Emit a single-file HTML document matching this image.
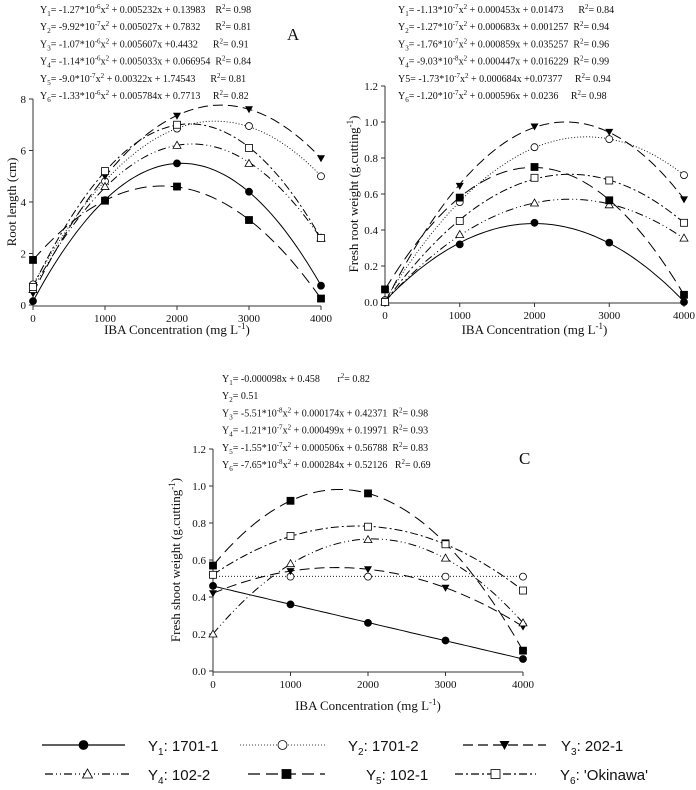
<!DOCTYPE html>
<html><head><meta charset="utf-8"><style>
html,body{margin:0;padding:0;background:#fff;}
svg{display:block;font-family:"Liberation Serif",serif;}
.eq{font-size:10px;fill:#111;}
.tk{font-size:11px;fill:#111;}
.ttl{font-size:13px;fill:#111;}
.lg{font-family:"Liberation Sans",sans-serif;font-size:15px;fill:#111;}
</style></head><body>
<svg id="chart" width="696" height="790" viewBox="0 0 696 790" xmlns="http://www.w3.org/2000/svg"></svg>
<script>
const xCats = [0, 1000, 2000, 3000, 4000];
// Panel A: root length (cm)
const aY1 = [0.15, 4.07, 5.5, 4.4, 0.75];
const aY2 = [0.8, 4.8, 6.85, 6.95, 5.0];
const aY3 = [0.45, 5.0, 7.35, 7.6, 5.7];
const aY4 = [0.6, 4.6, 6.2, 5.5, 2.6];
const aY5 = [1.75, 4.05, 4.6, 3.3, 0.25];
const aY6 = [0.7, 5.2, 7.0, 6.1, 2.6];
const aDeg = [2, 2, 2, 2, 2, 2];
const aTicks = ["0", "2", "4", "6", "8"];
// Panel B: fresh root weight
const bY1 = [0.01, 0.32, 0.44, 0.33, 0.0];
const bY2 = [0.01, 0.555, 0.86, 0.905, 0.705];
const bY3 = [0.0, 0.645, 0.975, 0.945, 0.57];
const bY4 = [0.0, 0.375, 0.55, 0.54, 0.355];
const bY5 = [0.07, 0.58, 0.75, 0.565, 0.04];
const bY6 = [0.0, 0.45, 0.69, 0.675, 0.44];
const bDeg = [2, 2, 2, 2, 2, 2];
const bTicks = ["0.0", "0.2", "0.4", "0.6", "0.8", "1.0", "1.2"];
// Panel C: fresh shoot weight
const cY1 = [0.46, 0.36, 0.26, 0.165, 0.065];
const cY2 = [0.52, 0.51, 0.51, 0.51, 0.51];
const cY3 = [0.42, 0.54, 0.55, 0.45, 0.24];
const cY4 = [0.2, 0.58, 0.71, 0.61, 0.26];
const cY5 = [0.57, 0.92, 0.96, 0.69, 0.11];
const cY6 = [0.52, 0.73, 0.78, 0.685, 0.435];
const cDeg = [1, 0, 2, 2, 2, 2];
const cTicks = ["0.0", "0.2", "0.4", "0.6", "0.8", "1.0", "1.2"];

const NS = "http://www.w3.org/2000/svg";
const svg = document.getElementById('chart');
const dashes = ["", "1,2", "10,5", "8,3,1,3,1,3", "12,6", "8,3,2,3"];
const markers = ["fc", "oc", "ftd", "otu", "fs", "os"];
function mk(tag, attrs, parent) {
  const e = document.createElementNS(NS, tag);
  for (const k in attrs) e.setAttribute(k, attrs[k]);
  (parent || svg).appendChild(e);
  return e;
}
function fit(xs, ys, deg) {
  const n = deg + 1;
  const M = [], V = [];
  for (let i = 0; i < n; i++) { M.push(new Array(n).fill(0)); V.push(0); }
  xs.forEach((xx, k) => {
    const x = xx / 1000;
    for (let i = 0; i < n; i++) {
      V[i] += ys[k] * Math.pow(x, i);
      for (let j = 0; j < n; j++) M[i][j] += Math.pow(x, i + j);
    }
  });
  for (let i = 0; i < n; i++) {
    for (let r = i + 1; r < n; r++) {
      const f = M[r][i] / M[i][i];
      for (let c = i; c < n; c++) M[r][c] -= f * M[i][c];
      V[r] -= f * V[i];
    }
  }
  const co = new Array(n).fill(0);
  for (let i = n - 1; i >= 0; i--) {
    let s = V[i];
    for (let c = i + 1; c < n; c++) s -= M[i][c] * co[c];
    co[i] = s / M[i][i];
  }
  return xx => { const x = xx / 1000; let y = 0; co.forEach((c, i) => y += c * Math.pow(x, i)); return y; };
}
function marker(g, type, x, y, r) {
  r = r || 3.5;
  let e;
  if (type === "fc" || type === "oc") e = mk('circle', {cx:x, cy:y, r:r, fill:type==="fc"?"#000":"#fff", stroke:"#000", "stroke-width":0.8}, g);
  else if (type === "fs" || type === "os") e = mk('rect', {x:x-r, y:y-r, width:2*r, height:2*r, fill:type==="fs"?"#000":"#fff", stroke:"#000", "stroke-width":0.8}, g);
  else if (type === "ftd") e = mk('polygon', {points:`${x-r-0.5},${y-r+0.5} ${x+r+0.5},${y-r+0.5} ${x},${y+r+0.5}`, fill:"#000"}, g);
  else e = mk('polygon', {points:`${x-r-0.5},${y+r-0.5} ${x+r+0.5},${y+r-0.5} ${x},${y-r-0.5}`, fill:"#fff", stroke:"#000", "stroke-width":0.8}, g);
  return e;
}
function panel(name, px0, px1, py0, py1, ymax, ticks, series, degs, eqs, eqX, eqY, ylabel, yLabX, letter, xTitleY) {
  const g = mk('g', {}, svg);
  
  
  const sx = v => px0 + (v / 4000) * (px1 - px0);
  const sy = v => py0 - (v / ymax) * (py0 - py1);
  const ax = mk('path', {d:`M${px0},${py1} V${py0+1} H${px1}`, stroke:"#333", fill:"none", "stroke-width":1}, g);
  
  
  ticks.forEach(t => {
    const v = parseFloat(t);
    mk('line', {x1:px0-4, x2:px0, y1:sy(v), y2:sy(v), stroke:"#333"}, g);
    const tx = mk('text', {x:px0-7, y:sy(v)+4, "text-anchor":"end", class:"tk"}, g);
    tx.textContent = t;
    
    
  });
  xCats.forEach(c => {
    mk('line', {x1:sx(c), x2:sx(c), y1:py0+1, y2:py0+5, stroke:"#333"}, g);
    const tx = mk('text', {x:sx(c), y:py0+17, "text-anchor":"middle", class:"tk"}, g);
    tx.textContent = c;
    
    
  });
  series.forEach((vals, s) => {
    const f = fit(xCats, vals, degs[s]);
    let d = "";
    for (let x = 0; x <= 4000; x += 50) {
      const y = Math.max(0, f(x));
      d += (x ? "L" : "M") + sx(x).toFixed(1) + "," + sy(y).toFixed(1);
    }
    const p = mk('path', {d:d, fill:"none", stroke:"#000", "stroke-width":s===1?0.9:1, "stroke-dasharray":dashes[s]}, g);
    
    
  });
  series.forEach((vals, s) => {
    vals.forEach((v, i) => {
      const m = marker(g, markers[s], sx(xCats[i]), sy(v));
      
      
    });
  });
  eqs.forEach((e, i) => {
    const t = mk('text', {x:eqX, y:eqY + i*17.2, class:"eq"}, g);
    t.innerHTML = e;
    
    
  });
  const yl = mk('text', {x:0, y:0, class:"ttl", "text-anchor":"middle", transform:`translate(${yLabX},${(py0+py1)/2}) rotate(-90)`}, g);
  yl.innerHTML = ylabel;
  
  
  const xl = mk('text', {x:(px0+px1)/2, y:xTitleY, class:"ttl", "text-anchor":"middle"}, g);
  xl.innerHTML = 'IBA Concentration (mg L<tspan dy="-5" font-size="9">-1</tspan><tspan dy="5">)</tspan>';
  
  
  if (letter) {
    const lt = mk('text', {x:letter[0], y:letter[1], "font-size":"17", fill:"#111"}, g);
    lt.textContent = letter[2];
    
    
  }
}
const sub = n => `Y<tspan dy="3" font-size="7">${n}</tspan><tspan dy="-3">`;
const sup = s => `<tspan dy="-4" font-size="7">${s}</tspan><tspan dy="4">`;
const R = `R${sup("2")}= `;
panel("a", 33, 321, 305, 99, 8, aTicks, [aY1,aY2,aY3,aY4,aY5,aY6], aDeg, [
  `${sub(1)}= -1.27*10${sup("-6")}x${sup("2")} + 0.005232x + 0.13983 &#160;&#160; ${R}0.98</tspan></tspan></tspan>`,
  `${sub(2)}= -9.92*10${sup("-7")}x${sup("2")} + 0.005027x + 0.7832 &#160;&#160;&#160;&#160; ${R}0.81</tspan></tspan></tspan>`,
  `${sub(3)}= -1.07*10${sup("-6")}x${sup("2")} + 0.005607x +0.4432 &#160;&#160;&#160;&#160; ${R}0.91</tspan></tspan></tspan>`,
  `${sub(4)}= -1.14*10${sup("-6")}x${sup("2")} + 0.005033x + 0.066954 &#160;${R}0.84</tspan></tspan></tspan>`,
  `${sub(5)}= -9.0*10${sup("-7")}x${sup("2")} + 0.00322x + 1.74543 &#160;&#160;&#160;&#160; ${R}0.81</tspan></tspan></tspan>`,
  `${sub(6)}= -1.33*10${sup("-6")}x${sup("2")} + 0.005784x + 0.7713 &#160;&#160;&#160; ${R}0.82</tspan></tspan></tspan>`
], 40, 13, "Root length (cm)", 16, [287, 40, "A"], 334);
panel("b", 385, 684, 302, 86, 1.2, bTicks, [bY1,bY2,bY3,bY4,bY5,bY6], bDeg, [
  `${sub(1)}= -1.13*10${sup("-7")}x${sup("2")} + 0.000453x + 0.01473 &#160;&#160;&#160;&#160; ${R}0.84</tspan></tspan></tspan>`,
  `${sub(2)}= -1.27*10${sup("-7")}x${sup("2")} + 0.000683x + 0.001257 &#160;${R}0.94</tspan></tspan></tspan>`,
  `${sub(3)}= -1.76*10${sup("-7")}x${sup("2")} + 0.000859x + 0.035257 &#160;${R}0.96</tspan></tspan></tspan>`,
  `${sub(4)}= -9.03*10${sup("-8")}x${sup("2")} + 0.000447x + 0.016229 &#160;${R}0.99</tspan></tspan></tspan>`,
  `Y5= -1.73*10${sup("-7")}x${sup("2")} + 0.000684x +0.07377 &#160;&#160;&#160; ${R}0.94</tspan></tspan>`,
  `${sub(6)}= -1.20*10${sup("-7")}x${sup("2")} + 0.000596x + 0.0236 &#160;&#160;&#160; ${R}0.98</tspan></tspan></tspan>`
], 398, 13, 'Fresh root weight (g.cutting<tspan dy="-5" font-size="9">-1</tspan><tspan dy="5">)</tspan>', 358, null, 334);
panel("c", 213, 523, 671, 449, 1.2, cTicks, [cY1,cY2,cY3,cY4,cY5,cY6], cDeg, [
  `${sub(1)}= -0.000098x + 0.458 &#160;&#160;&#160;&#160;&#160; r${sup("2")}= 0.82</tspan></tspan>`,
  `${sub(2)}= 0.51</tspan>`,
  `${sub(3)}= -5.51*10${sup("-8")}x${sup("2")} + 0.000174x + 0.42371 &#160;${R}0.98</tspan></tspan></tspan>`,
  `${sub(4)}= -1.21*10${sup("-7")}x${sup("2")} + 0.000499x + 0.19971 &#160;${R}0.93</tspan></tspan></tspan>`,
  `${sub(5)}= -1.55*10${sup("-7")}x${sup("2")} + 0.000506x + 0.56788 &#160;${R}0.83</tspan></tspan></tspan>`,
  `${sub(6)}= -7.65*10${sup("-8")}x${sup("2")} + 0.000284x + 0.52126 &#160;&#160;${R}0.69</tspan></tspan></tspan>`
], 222, 382, 'Fresh shoot weight (g.cutting<tspan dy="-5" font-size="9">-1</tspan><tspan dy="5">)</tspan>', 180, [519, 464, "C"], 710);

// Legend
const legNames = ["1701-1", "1701-2", "202-1", "102-2", "102-1", "'Okinawa'"];
const legLay = [[42,125,148,745],[240,325,348,745],[463,546,561,745],[45,130,148,774],[248,325,366,774],[455,536,560,774]];
legNames.forEach((n, i) => {
  const [l0, l1, tx, y] = legLay[i];
  const g = mk('g', {}, svg);
  
  
  mk('line', {x1:l0, x2:l1, y1:y, y2:y, stroke:"#000", "stroke-width":i===1?0.8:1.3, "stroke-dasharray":dashes[i]}, g);
  const mx = (l0+l1)/2;
  marker(g, markers[i], mx, y, 4.5);
  const t = mk('text', {x:tx, y:y+6, class:"lg"}, g);
  t.innerHTML = `Y<tspan dy="4" font-size="10">${i+1}</tspan><tspan dy="-4">: ${n}</tspan>`;
});
</script>
</body></html>
